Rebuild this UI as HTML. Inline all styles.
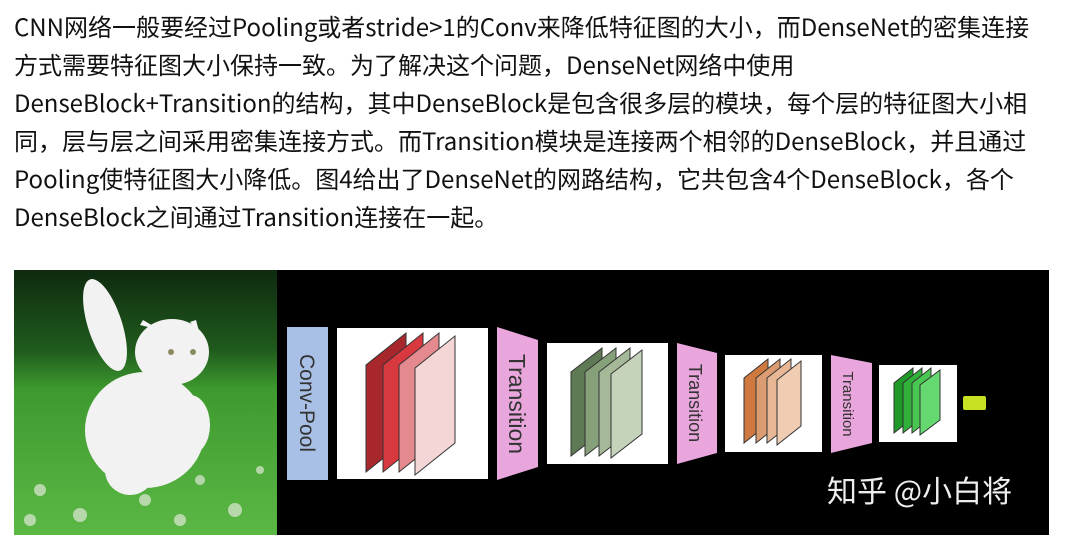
<!DOCTYPE html>
<html><head><meta charset="utf-8"><style>
body{margin:0;background:#fff;width:1079px;height:550px;overflow:hidden;position:relative}
.t{position:absolute;left:14px;top:7px;font-family:"Noto Sans CJK SC","Liberation Sans",sans-serif;font-size:24px;line-height:38px;color:#111;white-space:nowrap}
svg{position:absolute;left:0;top:0}
</style></head><body>
<div class="t">CNN网络一般要经过Pooling或者stride&gt;1的Conv来降低特征图的大小，而DenseNet的密集连接<br>方式需要特征图大小保持一致。为了解决这个问题，DenseNet网络中使用<br>DenseBlock+Transition的结构，其中DenseBlock是包含很多层的模块，每个层的特征图大小相<br>同，层与层之间采用密集连接方式。而Transition模块是连接两个相邻的DenseBlock，并且通过<br>Pooling使特征图大小降低。图4给出了DenseNet的网路结构，它共包含4个DenseBlock，各个<br>DenseBlock之间通过Transition连接在一起。</div>
<svg width="1079" height="550" viewBox="0 0 1079 550">
<defs>
<linearGradient id="bg" x1="0" y1="0" x2="0" y2="1">
<stop offset="0" stop-color="#0f2a10"/><stop offset="0.3" stop-color="#1f5a1c"/><stop offset="0.45" stop-color="#3e9a2e"/><stop offset="1" stop-color="#5cb845"/></linearGradient>
</defs>
<rect x="14" y="270" width="1035" height="265" fill="#000"/>
<rect x="14" y="270" width="263" height="265" fill="url(#bg)"/>
<g fill="#f2f2f2">
<ellipse cx="105" cy="325" rx="17" ry="48" transform="rotate(-18 105 325)"/>
<ellipse cx="145" cy="430" rx="60" ry="58"/>
<ellipse cx="172" cy="352" rx="37" ry="33"/>
<polygon points="140,325 143,320 160,330"/><polygon points="190,322 196,320 200,335"/>
<ellipse cx="190" cy="425" rx="20" ry="30"/>
<ellipse cx="130" cy="470" rx="25" ry="25"/>
</g>
<g fill="#dfe9d8" opacity="0.7">
<circle cx="40" cy="490" r="6"/><circle cx="80" cy="515" r="7"/><circle cx="145" cy="500" r="6"/><circle cx="200" cy="480" r="5"/><circle cx="235" cy="510" r="7"/><circle cx="260" cy="470" r="4"/><circle cx="30" cy="520" r="6"/><circle cx="180" cy="520" r="6"/>
</g>
<circle cx="171" cy="352" r="3" fill="#8a8a60"/><circle cx="193" cy="352" r="3" fill="#8a8a60"/>
<rect x="287" y="327" width="41" height="153" fill="#a9c0e6"/>
<text transform="translate(300 403) rotate(90)" text-anchor="middle" font-family="Liberation Sans,sans-serif" font-size="21" fill="#333">Conv-Pool</text>
<rect x="337" y="328" width="151" height="151" fill="#fff"/>
<g stroke="#333" stroke-width="1">
<polygon points="366,365 406,333 406,440 366,472" fill="#a8272c"/>
<polygon points="383,365 423,333 423,440 383,472" fill="#d8393f"/>
<polygon points="399,365 439,333 439,440 399,472" fill="#e48a8e"/>
<polygon points="415,368 455,336 455,443 415,475" fill="#f5d6d6"/>
</g>
<polygon points="497,327 538,340 538,467 497,480" fill="#e8a6dc"/>
<text transform="translate(509 404) rotate(90)" text-anchor="middle" font-family="Liberation Sans,sans-serif" font-size="23" fill="#333">Transition</text>
<rect x="547" y="343" width="121" height="121" fill="#fff"/>
<g stroke="#333" stroke-width="1">
<polygon points="571,372 602,348 602,432 571,456" fill="#5e7a55"/>
<polygon points="585,372 616,348 616,432 585,456" fill="#86a07a"/>
<polygon points="599,372 630,348 630,432 599,456" fill="#a5b898"/>
<polygon points="611,374 642,350 642,434 611,458" fill="#c5d3bb"/>
</g>
<polygon points="677,343 717,353 717,453 677,464" fill="#e8a6dc"/>
<text transform="translate(689 403) rotate(90)" text-anchor="middle" font-family="Liberation Sans,sans-serif" font-size="18" fill="#333">Transition</text>
<rect x="725" y="355" width="97" height="97" fill="#fff"/>
<g stroke="#333" stroke-width="1">
<polygon points="744,378 768,359 768,424 744,443" fill="#cf7840"/>
<polygon points="756,378 780,359 780,424 756,443" fill="#dc9c72"/>
<polygon points="767,378 791,359 791,424 767,443" fill="#e8b896"/>
<polygon points="777,380 801,361 801,426 777,445" fill="#f0cdb2"/>
</g>
<polygon points="831,355 872,363 872,443 831,453" fill="#e8a6dc"/>
<text transform="translate(843 404) rotate(90)" text-anchor="middle" font-family="Liberation Sans,sans-serif" font-size="15" fill="#333">Transition</text>
<rect x="879" y="365" width="78" height="77" fill="#fff"/>
<g stroke="#333" stroke-width="1">
<polygon points="894,383 913,368 913,418 894,433" fill="#1f9a28"/>
<polygon points="903,383 922,368 922,418 903,433" fill="#30b23a"/>
<polygon points="912,383 931,368 931,418 912,433" fill="#48c850"/>
<polygon points="920,385 940,370 940,420 920,435" fill="#66d870"/>
</g>
<rect x="963" y="396" width="23" height="14" rx="2" fill="#c8e022"/>
<text x="827" y="502" font-family="Noto Sans CJK SC,sans-serif" font-size="30" fill="#eee">知乎 @小白将</text>
</svg>
</body></html>
